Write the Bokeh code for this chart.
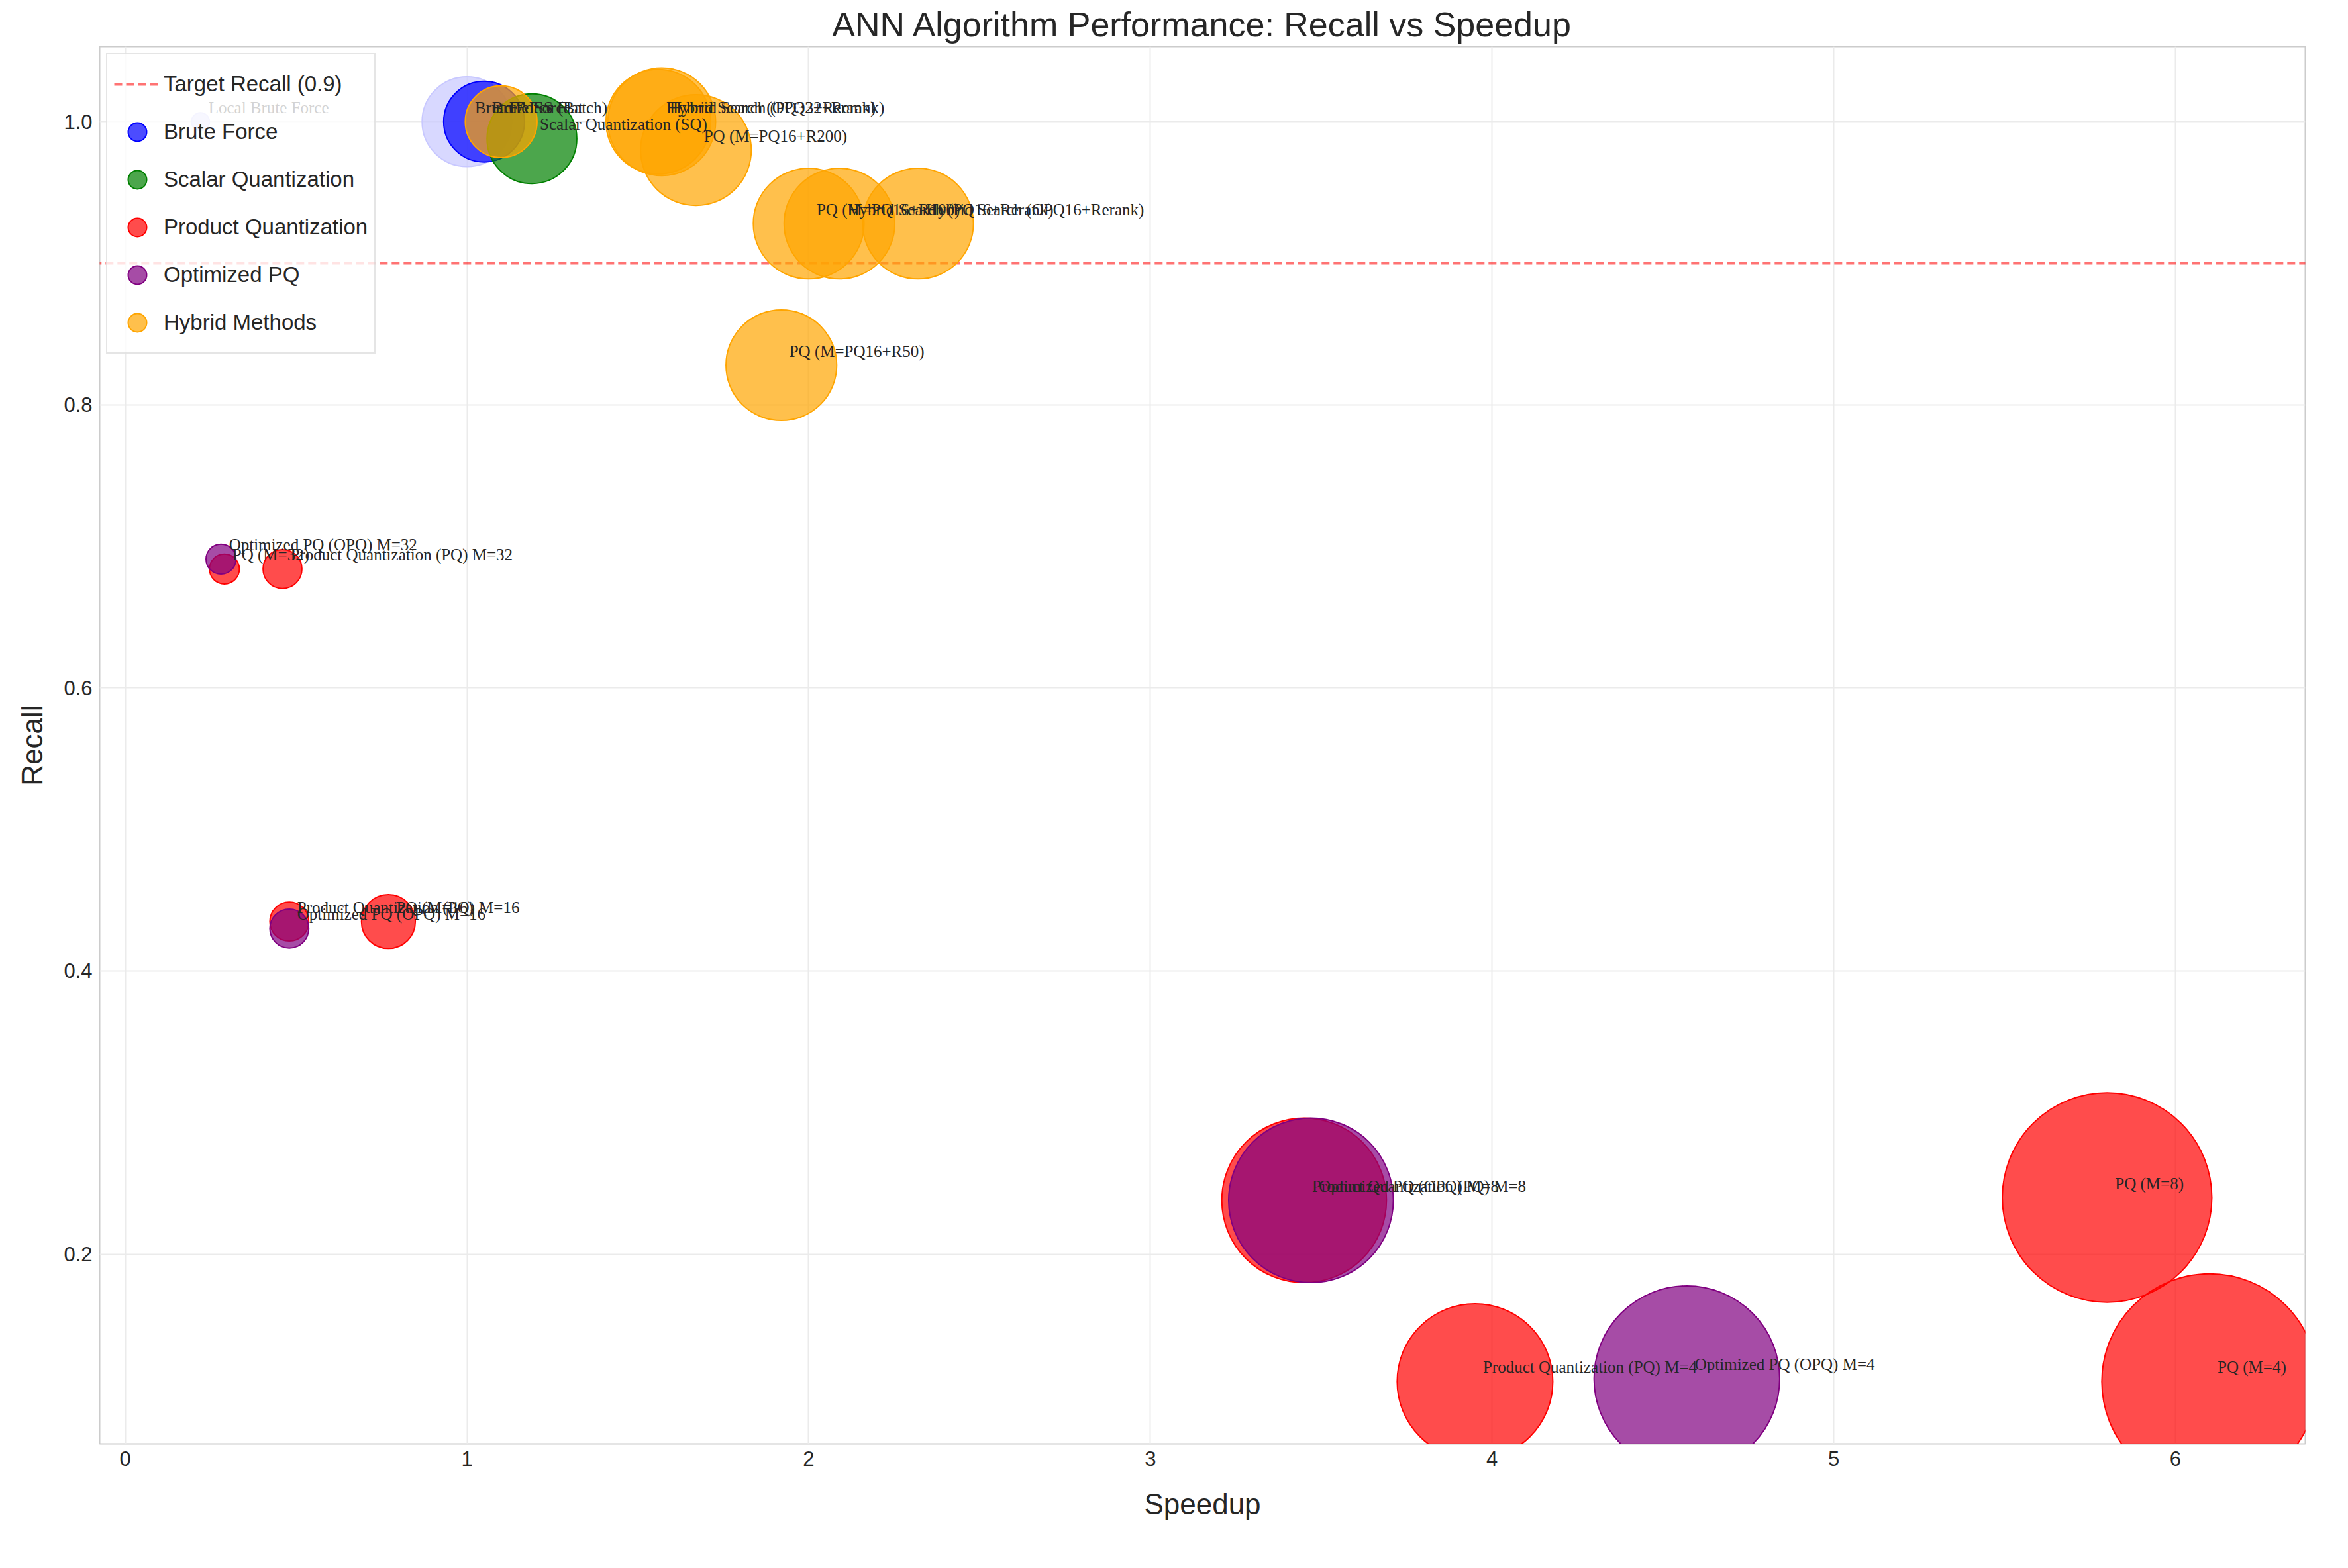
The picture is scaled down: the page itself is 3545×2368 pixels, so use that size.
from bokeh.plotting import figure
from bokeh.models import ColumnDataSource, Legend, LegendItem, NumeralTickFormatter
from bokeh.embed import file_html
from bokeh.resources import INLINE

# data
labels = [
    "Local Brute Force", "Brute Force (Batch)", "Brute Force", "FAISS Flat",
    "Scalar Quantization (SQ)", "Hybrid Search (PQ32+Rerank)", "Hybrid Search (OPQ32+Rerank)",
    "PQ (M=PQ16+R200)", "PQ (M=PQ16+R100)", "Hybrid Search (PQ16+Rerank)",
    "Hybrid Search (OPQ16+Rerank)", "PQ (M=PQ16+R50)",
    "Optimized PQ (OPQ) M=32", "PQ (M=32)", "Product Quantization (PQ) M=32",
    "Product Quantization (PQ) M=16", "Optimized PQ (OPQ) M=16", "PQ (M=16)",
    "Product Quantization (PQ) M=8", "Optimized PQ (OPQ) M=8", "PQ (M=8)",
    "Product Quantization (PQ) M=4", "Optimized PQ (OPQ) M=4", "PQ (M=4)",
]
speedup = [0.22, 1.0, 1.05, 1.1, 1.19, 1.57, 1.56, 1.67, 2.0, 2.09, 2.32, 1.92,
           0.28, 0.29, 0.46, 0.48, 0.48, 0.77, 3.45, 3.47, 5.8, 3.95, 4.57, 6.1]
recall = [1.0, 1.0, 1.0, 1.0, 0.988, 1.0, 1.0, 0.98, 0.928, 0.928, 0.928, 0.828,
          0.691, 0.684, 0.684, 0.435, 0.43, 0.435, 0.238, 0.238, 0.24, 0.11, 0.112, 0.11]
bubble = [6, 30, 27, 24, 30, 36, 35, 37, 37, 37, 37, 37,
          10, 10, 13, 13, 13, 18, 55, 55, 70, 52, 62, 72]
group = ["Local", "Local", "Brute Force", "Hybrid Methods", "Scalar Quantization",
         "Hybrid Methods", "Hybrid Methods", "Hybrid Methods", "Hybrid Methods",
         "Hybrid Methods", "Hybrid Methods", "Hybrid Methods",
         "Optimized PQ", "Product Quantization", "Product Quantization",
         "Product Quantization", "Optimized PQ", "Product Quantization",
         "Product Quantization", "Optimized PQ", "Product Quantization",
         "Product Quantization", "Optimized PQ", "Product Quantization"]
legend_groups = ["Brute Force", "Scalar Quantization", "Product Quantization",
                 "Optimized PQ", "Hybrid Methods"]
colors = {"Local": "#c8c8ff", "Brute Force": "blue", "Scalar Quantization": "green",
          "Product Quantization": "red", "Optimized PQ": "purple", "Hybrid Methods": "orange"}
target_recall = 0.9

S = 2.26
p = figure(width=3520, height=2340, output_backend="svg", toolbar_location=None,
           x_range=(-0.075, 6.38), y_range=(0.066, 1.053),
           title="ANN Algorithm Performance: Recall vs Speedup",
           x_axis_label="Speedup", y_axis_label="Recall",
           min_border_left=150, min_border_bottom=160, min_border_top=70, min_border_right=40)
p.title.align = "center"
p.title.text_font = "Arial"
p.title.text_font_size = "52px"
p.title.text_font_style = "normal"
p.title.text_color = "#262626"
for ax in (p.xaxis[0], p.yaxis[0]):
    ax.axis_label_text_font = "Arial"
    ax.axis_label_text_font_size = "44px"
    ax.axis_label_text_font_style = "normal"
    ax.axis_label_text_color = "#262626"
    ax.major_label_text_font = "Arial"
    ax.major_label_text_font_size = "31px"
    ax.major_label_text_color = "#262626"
    ax.axis_line_color = None
    ax.major_tick_line_color = None
    ax.minor_tick_line_color = None
p.xaxis.axis_label_standoff = 30
p.yaxis.axis_label_standoff = 20
p.xaxis.ticker = [0, 1, 2, 3, 4, 5, 6]
p.yaxis.ticker = [0.2, 0.4, 0.6, 0.8, 1.0]
p.yaxis.formatter = NumeralTickFormatter(format="0.0")
p.grid.grid_line_color = "#ebebeb"
p.grid.grid_line_width = 2
p.outline_line_color = "#cccccc"
p.outline_line_width = 2

target = p.line([-1, 7], [target_recall, target_recall], line_color="red", line_alpha=0.55,
                line_dash="12 6", line_width=4)

items = [LegendItem(label="Target Recall (0.9)", renderers=[target])]
renderers = {}
for g in ["Local"] + legend_groups:
    idx = [i for i, gg in enumerate(group) if gg == g]
    src = ColumnDataSource(dict(x=[speedup[i] for i in idx], y=[recall[i] for i in idx],
                                s=[bubble[i] * S * 2 for i in idx]))
    r = p.scatter("x", "y", size="s", source=src, fill_color=colors[g], fill_alpha=0.7,
                  line_color=colors[g], line_width=2)
    renderers[g] = r
for g in legend_groups:
    items.append(LegendItem(label=g, renderers=[renderers[g]]))

tsrc = ColumnDataSource(dict(x=speedup, y=recall, t=labels))
p.text("x", "y", text="t", source=tsrc, x_offset=12, y_offset=-8, text_baseline="bottom",
       text_font="Arial", text_font_size="25px", text_color="#262626")

legend = Legend(items=items, location="top_left", label_text_font="Arial",
                label_text_font_size="33px", label_text_color="#262626",
                glyph_width=70, glyph_height=70, spacing=2, padding=10, margin=10,
                border_line_color="#cccccc", border_line_width=2, background_fill_alpha=0.8)
p.add_layout(legend)

open("out.html", "w").write(file_html(p, INLINE))
